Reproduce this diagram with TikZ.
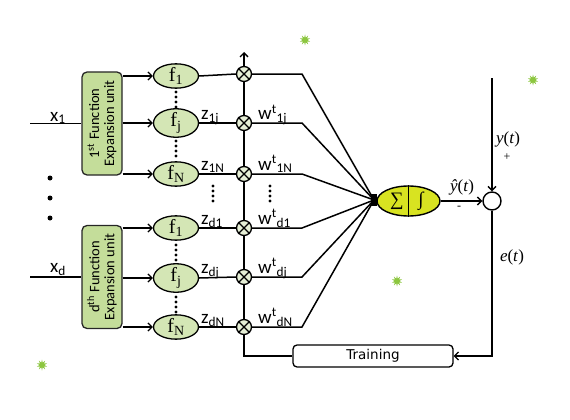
\documentclass[tikz,border=0pt]{standalone}
\usepackage{fontspec}
\setmainfont{Carlito}
\newfontfamily\tnr{Liberation Serif}
\newfontfamily\dvs{DejaVu Sans}
\usetikzlibrary{arrows.meta,shapes.geometric}
\definecolor{boxgreen}{HTML}{C4DD9A}
\definecolor{fgreen}{HTML}{D4E6B5}
\definecolor{mgreen}{HTML}{E6EFD6}
\definecolor{sumyellow}{HTML}{D8E321}
\definecolor{stargreen}{HTML}{8CC63F}
\tikzset{
  wire/.style={line width=1.5pt, black},
  arr/.style={wire, -{Straight Barb[length=4pt,width=8pt,line width=1.3pt]}},
  feubox/.style={draw=black!85, fill=boxgreen, rounded corners=5pt, line width=1.3pt,
    minimum width=40pt, minimum height=103pt, inner sep=0pt},
  feutext/.style={rotate=90, align=center, font=\fontsize{14.5}{15}\selectfont, inner sep=0pt},
  fn/.style={ellipse, draw=black, fill=fgreen, line width=1.3pt, minimum width=45pt,
    minimum height=20pt, inner sep=0pt, font=\tnr\fontsize{20}{20}\selectfont},
  mult/.style={circle, draw=black, fill=mgreen, line width=1.3pt, minimum size=15pt, inner sep=0pt},
  lab/.style={font=\fontsize{19}{19}\selectfont, inner sep=0pt},
  mlab/.style={font=\tnr\fontsize{17}{17}\selectfont, inner sep=0pt},
  sgn/.style={font=\tnr\fontsize{12}{12}\selectfont, inner sep=0pt},
  dot/.style={circle, fill=black, inner sep=0pt, minimum size=3.2pt},
  bigdot/.style={circle, fill=black, inner sep=0pt, minimum size=5pt},
  burst/.style={star, star points=10, star point ratio=2.2, fill=stargreen, inner sep=0pt, minimum size=11pt},
}
\begin{document}
\begin{tikzpicture}[x=1pt,y=-1pt]
\useasboundingbox (0,0) rectangle (570,420);

% stars
\node[burst] (s1) at (305,40) {};
\node[burst] (s2) at (533,80) {};
\node[burst] (s3) at (397,281) {};
\node[burst] (s4) at (42,365) {};

% function expansion units
\node[feubox] (B1) at (102,123.5) {};
\node[feutext] (B1t) at (B1.center) {1\textsuperscript{st} Function\\Expansion unit};
\node[feubox] (B2) at (102,277) {};
\node[feutext] (B2t) at (B2.center) {d\textsuperscript{th} Function\\Expansion unit};

% inputs
\coordinate (x1in) at (30,123.5);
\coordinate (xdin) at (30,277);
\draw[wire] (x1in) -- (B1.west);
\draw[wire] (xdin) -- (B2.west);
\node[lab, anchor=base west] (x1l) at (50,121) {x\textsubscript{1}};
\node[lab, anchor=base west] (xdl) at (50,272) {x\textsubscript{d}};
\node[bigdot] (ld1) at (50,178) {};
\node[bigdot] (ld2) at (50,198) {};
\node[bigdot] (ld3) at (50,218) {};

% basis function ellipses
\node[fn] (f11) at (176,76) {f\textsubscript{1}};
\node[fn] (f1j) at (176,123) {f\textsubscript{j}};
\node[fn] (f1N) at (176,174) {f\textsubscript{N}};
\node[fn] (fd1) at (176,228) {f\textsubscript{1}};
\node[fn] (fdj) at (176,278) {f\textsubscript{j}};
\node[fn] (fdN) at (176,327) {f\textsubscript{N}};

\foreach \f/\b in {f11/B1,f1j/B1,f1N/B1,fd1/B2,fdj/B2,fdN/B2}
  \draw[arr] (\b.east |- \f.west) -- (\f.west);

% dots between ellipses
\foreach \y in {92,97,102,107,141,146,151,156,245,250,255,260,297,302,307,312}
  \node[dot] at (176,\y) {};

% multipliers
\node[mult] (m1) at (244,74) {};
\node[mult] (m2) at (244,123) {};
\node[mult] (m3) at (244,174) {};
\node[mult] (m4) at (244,228) {};
\node[mult] (m5) at (244,277) {};
\node[mult] (m6) at (244,327) {};
\foreach \m in {m1,m2,m3,m4,m5,m6}
  \draw[line width=1.2pt] (\m.north west) -- (\m.south east) (\m.north east) -- (\m.south west);

\draw[wire] (f11.east) -- (m1.west);
\draw[wire] (f1j.east) -- (m2.west);
\draw[wire] (f1N.east) -- (m3.west);
\draw[wire] (fd1.east) -- (m4.west);
\draw[wire] (fdj.east) -- (m5.west);
\draw[wire] (fdN.east) -- (m6.west);

% bus
\coordinate (bustop) at (244,52);
\coordinate (busbot) at (244,356);
\draw[arr] (m1.north) -- (bustop);
\draw[wire] (m1.south) -- (m2.north);
\draw[wire] (m2.south) -- (m3.north);
\draw[wire] (m3.south) -- (m4.north);
\draw[wire] (m4.south) -- (m5.north);
\draw[wire] (m5.south) -- (m6.north);

\foreach \y in {186,191,196,201} {
  \node[dot] at (213,\y) {};
  \node[dot] at (270,\y) {};
}

% labels z and w
\node[lab, anchor=base west] (z1j) at (201,119.5) {z\textsubscript{1j}};
\node[lab, anchor=base west] (z1N) at (201,170) {z\textsubscript{1N}};
\node[lab, anchor=base west] (zd1) at (201,224) {z\textsubscript{d1}};
\node[lab, anchor=base west] (zdj) at (201,273) {z\textsubscript{dj}};
\node[lab, anchor=base west] (zdN) at (201,323) {z\textsubscript{dN}};
\node[lab, anchor=base west] (w1j) at (258,119.5) {w\textsuperscript{t}\textsubscript{1j}};
\node[lab, anchor=base west] (w1N) at (258,170) {w\textsuperscript{t}\textsubscript{1N}};
\node[lab, anchor=base west] (wd1) at (258,224) {w\textsuperscript{t}\textsubscript{d1}};
\node[lab, anchor=base west] (wdj) at (258,273) {w\textsuperscript{t}\textsubscript{dj}};
\node[lab, anchor=base west] (wdN) at (258,323) {w\textsuperscript{t}\textsubscript{dN}};

% summing neuron
\node[ellipse, draw=black, fill=sumyellow, line width=1.4pt, minimum width=63pt, minimum height=30pt, inner sep=0pt] (S) at (408.5,201) {};
\draw[line width=1.2pt] (S.north) -- (S.south);
\node[inner sep=0pt, font=\tnr\fontsize{19}{19}\selectfont] (sig) at (397,201) {∑};
\node[inner sep=0pt, font=\tnr\fontsize{19}{19}\selectfont] (int) at (421,201) {∫};

\node[fill=black, minimum width=6pt, minimum height=12pt, inner sep=0pt] (J) at (374,200) {};
\coordinate (bend) at (302,0);
\foreach \m in {m1,m2,m3,m4,m5,m6}
  \draw[wire] (\m.east) -- (\m.east -| bend) -- (J.center);

% output comparison
\node[circle, draw=black, fill=white, line width=1.4pt, minimum size=18pt, inner sep=0pt] (O) at (492,201) {};
\coordinate (ytop) at (492,78);
\draw[arr] (ytop) -- (O.north);
\draw[arr] (S.east) -- (O.west);

% training
\node[draw=black, line width=1.3pt, rounded corners=4pt, minimum width=160pt, minimum height=22pt,
  inner sep=0pt, font=\dvs\fontsize{13.5}{14}\selectfont] (T) at (373,356) {Training};
\coordinate (ebot) at (492,356);
\draw[arr] (O.south) -- (ebot) -- (T.east);
\draw[wire] (m6.south) -- (busbot) -- (T.west);

% signal labels
\node[mlab] (yl) at (508,139) {\textit{y}(\textit{t})};
\node[sgn] (plus) at (507,157) {+};
\node[mlab] (yhl) at (462,187) {\textit{\^{y}}(\textit{t})};
\node[sgn] (minus) at (459,208) {-};
\node[mlab] (el) at (512,257) {\textit{e}(\textit{t})};
\end{tikzpicture}
\end{document}
